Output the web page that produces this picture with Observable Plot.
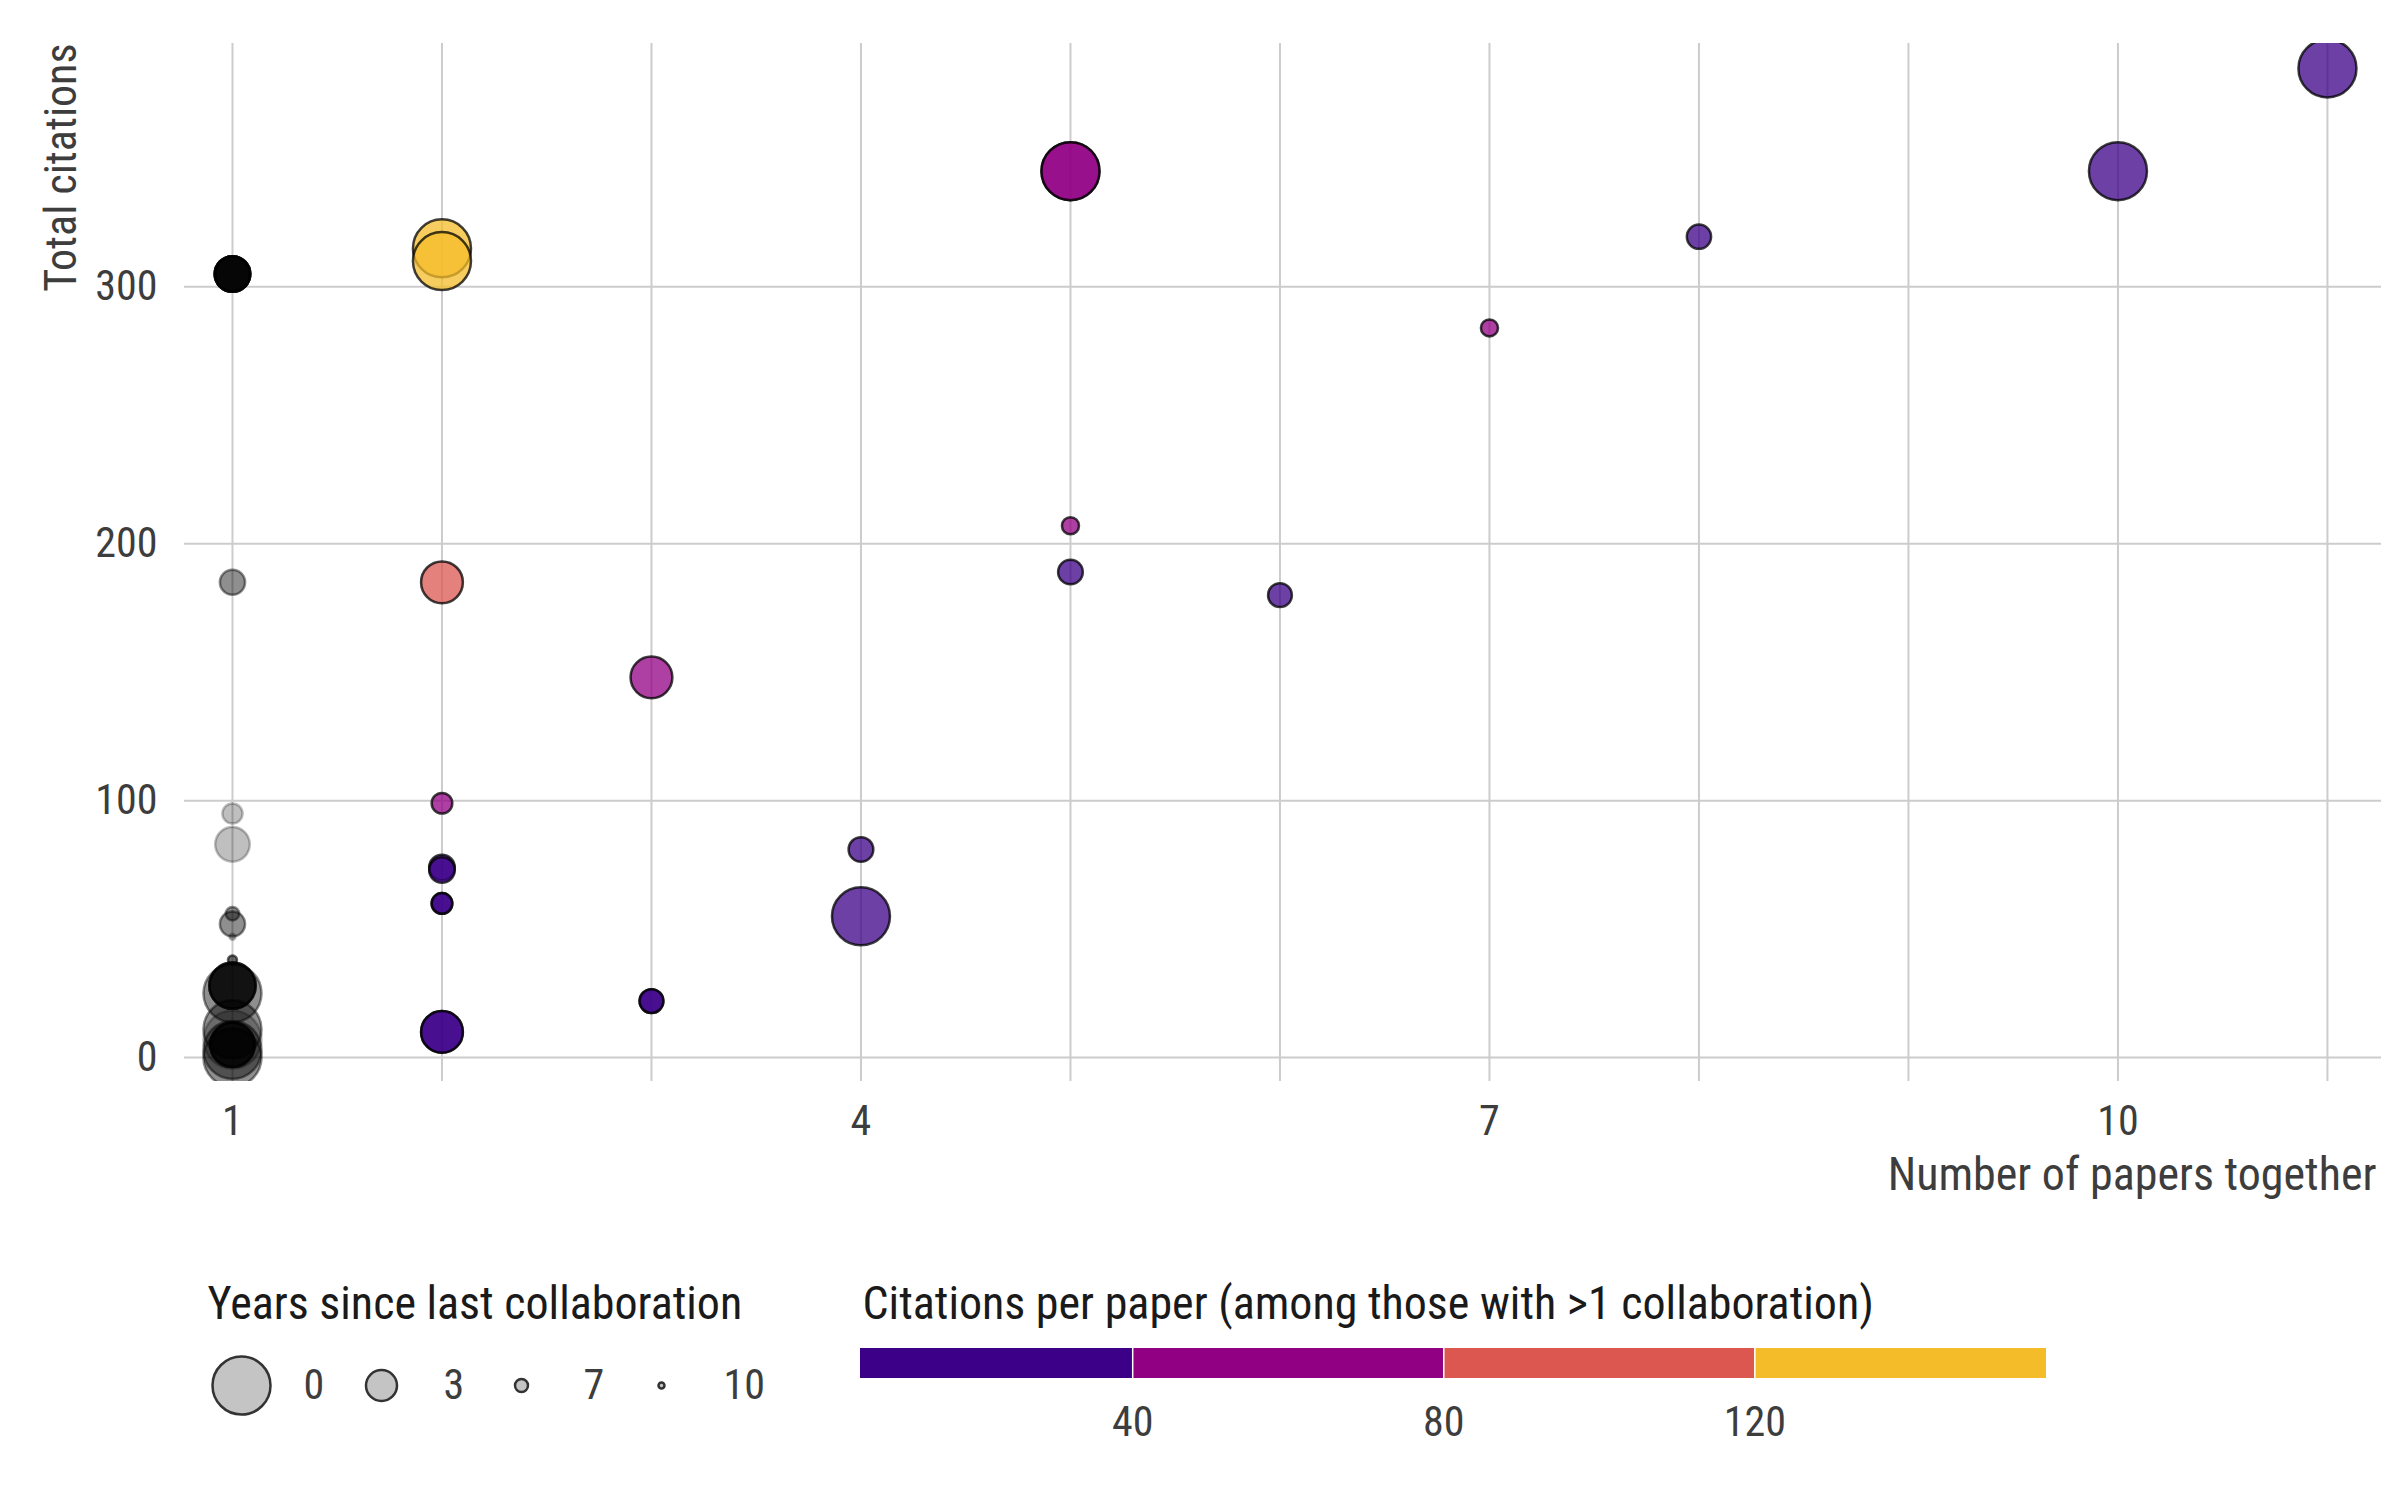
<!DOCTYPE html>
<html>
<head>
<meta charset="utf-8">
<script src="https://cdn.jsdelivr.net/npm/d3@7"></script>
<script src="https://cdn.jsdelivr.net/npm/@observablehq/plot@0.6"></script>
<style>
  html, body { margin: 0; padding: 0; background: #ffffff; }
  #wrap { position: relative; width: 2400px; height: 1500px; overflow: hidden; background: #ffffff; }
  #wrap svg { position: absolute; max-width: none !important; }
</style>
</head>
<body>
<div id="wrap"></div>
<script>
const FONT = '"Roboto Condensed","DejaVu Sans Condensed",sans-serif';

// ---- data: one entry per plotted point (copies = coauthors sharing the same values) ----
const papersTogether = [1,1,1,1,1,1,1,1,1,1,1,1,1,1,1,
                        2,2,2,2,2,2,2,2,3,3,4,4,5,5,5,6,7,8,10,11];
const totalCitations = [305,185,95,83,56,52,47,38,28,25,11,7,5,3,0,
                        315,310,185,99,74,73,60,10,148,22,81,55,345,207,189,180,284,319.5,345,385];
const yearsSince     = [2.5,4.3,5.4,2.6,6.9,4.3,10,8.7,1.3,0,0,0,1.5,0,0,
                        0,0,1.8,5.3,4.2,4.2,5.3,1.8,1.8,4.6,4.4,0,0,6.1,4.4,4.6,6.1,4.5,0,0];
const copies         = [12,2,1,1,2,2,1,3,7,2,2,1,6,2,2,
                        1,1,1,1,1,1,2,2,1,2,1,1,2,1,1,1,1,1,1,1];

const xTicks = [1, 4, 7, 10];
const xGrid = [1, 2, 3, 4, 5, 6, 7, 8, 9, 10, 11];
const yTicks = [0, 100, 200, 300];
const legendYears = [0, 3, 7, 10];
const binBreaks = [40, 80, 120];
const binColors = ["#3c0088", "#910083", "#db5750", "#f5bc29"];

const titleY = "Total citations";
const titleX = "Number of papers together";
const titleSize = "Years since last collaboration";
const titleColor = "Citations per paper (among those with >1 collaboration)";

// ---- build rows ----
const rows = [];
papersTogether.forEach((p, i) => {
  for (let k = 0; k < copies[i]; k++) {
    rows.push({papers: p, citations: totalCitations[i], years: yearsSince[i],
               cpp: p > 1 ? totalCitations[i] / p : null});
  }
});
const single = rows.filter(d => d.papers === 1);
const multi = rows.filter(d => d.papers > 1);

const rScale = {type: "linear", domain: legendYears, range: [29, 15.5, 6.5, 3], clamp: true};
const colorScale = {type: "threshold", domain: binBreaks, range: binColors};

const wrap = document.getElementById("wrap");

// ---- main chart ----
const main = Plot.plot({
  width: 2400, height: 1200,
  marginLeft: 184, marginRight: 19, marginTop: 43, marginBottom: 119,
  style: {fontFamily: FONT, fontSize: "42px", color: "#3d3d3d", background: "transparent", overflow: "visible"},
  x: {domain: [0.771, 11.258], ticks: xTicks, tickSize: 0, tickPadding: 24, label: null},
  y: {domain: [-9.3, 394.7], ticks: yTicks, tickSize: 0, tickPadding: 27, label: null},
  r: rScale,
  color: colorScale,
  marks: [
    Plot.ruleX(xGrid, {x: d => d, stroke: "#cccccc", strokeWidth: 2}),
    Plot.ruleY(yTicks, {y: d => d, stroke: "#cccccc", strokeWidth: 2}),
    Plot.dot(single, {x: "papers", y: "citations", r: "years", fill: "black", fillOpacity: 0.25,
                      stroke: "black", strokeOpacity: 0.25, strokeWidth: 2.5, clip: true}),
    Plot.dot(multi, {x: "papers", y: "citations", r: "years", fill: "cpp", fillOpacity: 0.75,
                     stroke: "black", strokeOpacity: 0.75, strokeWidth: 2.5, clip: true}),
    Plot.text([titleY], {text: d => d, frameAnchor: "top-left", rotate: -90, textAnchor: "end",
                         lineAnchor: "middle", dx: -123, fontSize: 44, fill: "#3d3d3d"}),
    Plot.text([titleX], {text: d => d, frameAnchor: "bottom-right", textAnchor: "end",
                         lineAnchor: "top", dx: -5, dy: 76, fontSize: 46, fill: "#3d3d3d"})
  ]
});
main.style.left = "0px"; main.style.top = "0px";
wrap.appendChild(main);

// ---- size legend ----
const sizeLegend = Plot.plot({
  width: 820, height: 200,
  marginLeft: 0, marginRight: 0, marginTop: 95, marginBottom: 25,
  style: {fontFamily: FONT, fontSize: "42px", color: "#3d3d3d", background: "transparent", overflow: "visible"},
  x: {type: "point", domain: legendYears, range: [240, 662], padding: 0, axis: null},
  r: rScale,
  marks: [
    Plot.dot(legendYears, {x: d => d, r: d => d, fill: "#c4c4c4", stroke: "#333333", strokeWidth: 2.5}),
    Plot.text(legendYears, {x: d => d, text: d => String(d), dx: 62, textAnchor: "start",
                            fontSize: 42, fill: "#3d3d3d"}),
    Plot.text([titleSize], {text: d => d, frameAnchor: "top-left", dx: 207, dy: -59,
                            lineAnchor: "top", textAnchor: "start", fontSize: 46, fill: "#1a1a1a"})
  ]
});
sizeLegend.style.left = "0px"; sizeLegend.style.top = "1250px";
wrap.appendChild(sizeLegend);

// ---- color legend ----
const cppExtent = d3.extent(multi, d => d.cpp);
const edges = [cppExtent[0], ...binBreaks, cppExtent[1]];
const bins = edges.slice(0, -1).map((lo, i) => ({lo, hi: edges[i + 1]}));
const colorLegend = Plot.plot({
  width: 1260, height: 200,
  marginLeft: 0, marginRight: 0, marginTop: 98, marginBottom: 72,
  style: {fontFamily: FONT, fontSize: "42px", color: "#3d3d3d", background: "transparent", overflow: "visible"},
  x: {domain: cppExtent, range: [20, 1206], ticks: binBreaks, tickSize: 0, tickPadding: 28, label: null},
  color: colorScale,
  marks: [
    Plot.rectX(bins, {x1: "lo", x2: "hi", fill: d => (d.lo + d.hi) / 2}),
    Plot.ruleX(binBreaks, {x: d => d, stroke: "white", strokeWidth: 1.5}),
    Plot.text([titleColor], {text: d => d, frameAnchor: "top-left", dx: 22, dy: -62,
                             lineAnchor: "top", textAnchor: "start", fontSize: 46, fill: "#1a1a1a"})
  ]
});
colorLegend.style.left = "840px"; colorLegend.style.top = "1250px";
wrap.appendChild(colorLegend);
</script>
</body>
</html>
